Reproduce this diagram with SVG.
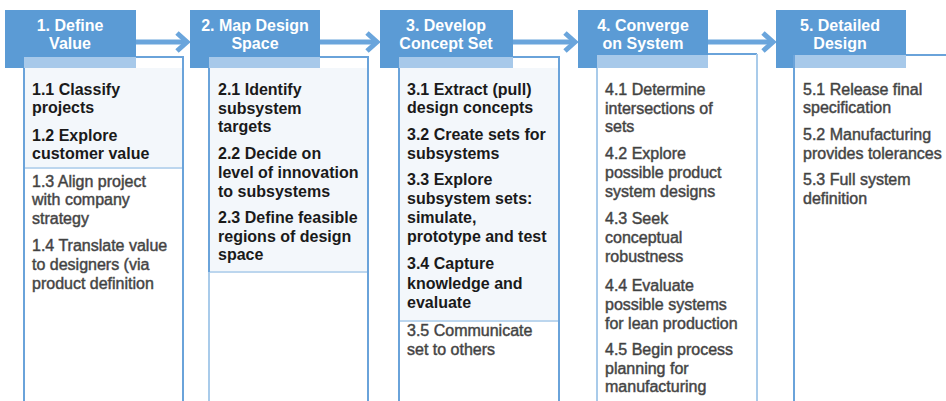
<svg xmlns="http://www.w3.org/2000/svg" width="946" height="401" viewBox="0 0 946 401">
<style>
.hdr{fill:#5b9bd5}
.band{fill:#a7c9ea}
.ht{font-family:"Liberation Sans",Arial,sans-serif;font-size:16px;font-weight:bold;fill:#ffffff;text-anchor:middle}
.t{font-family:"Liberation Sans",Arial,sans-serif;font-size:16px;font-weight:bold;fill:#1a1a1a}
.g{font-family:"Liberation Sans",Arial,sans-serif;font-size:16px;fill:#3a3a3a;stroke:#555555;stroke-width:0.5}
.light{fill:#f3f7fb}
.edge{stroke:#6aa3da;stroke-width:2;fill:none}
.pale{stroke:#a9cbea;stroke-width:2;fill:none}
.sep{stroke:#bcd6ee;stroke-width:2;fill:none}
.arr{stroke:#6aa5dc;stroke-width:5;fill:none}
</style>
<rect width="946" height="401" fill="#ffffff"/>

<g id="connectors">
<line class="arr" x1="136" y1="42" x2="186" y2="42"/>
<polyline class="arr" points="177,33 187,42 177,51"/>
<line class="arr" x1="320" y1="42" x2="376" y2="42"/>
<polyline class="arr" points="367,33 377,42 367,51"/>
<line class="arr" x1="513" y1="42" x2="574" y2="42"/>
<polyline class="arr" points="565,33 575,42 565,51"/>
<line class="arr" x1="708" y1="42" x2="772" y2="42"/>
<polyline class="arr" points="763,33 773,42 763,51"/>
</g>

<g id="node1">
<rect class="light" x="24" y="68" width="159" height="100"/>
<line class="sep" x1="24" y1="168" x2="183" y2="168"/>
<rect class="hdr" x="5" y="10" width="131" height="58"/>
<rect class="band" x="24" y="57" width="112" height="11"/>
<polyline class="edge" points="136,57 183,57 183,401"/>
<line class="edge" x1="24" y1="68" x2="24" y2="401"/>
<text class="ht" x="70" y="31">1. Define</text>
<text class="ht" x="70" y="49">Value</text>
<text class="t" x="32" y="95">1.1 Classify</text>
<text class="t" x="32" y="113">projects</text>
<text class="t" x="32" y="141">1.2 Explore</text>
<text class="t" x="32" y="159">customer value</text>
<text class="g" x="32" y="187">1.3 Align project</text>
<text class="g" x="32" y="205">with company</text>
<text class="g" x="32" y="224">strategy</text>
<text class="g" x="32" y="251">1.4 Translate value</text>
<text class="g" x="32" y="270">to designers (via</text>
<text class="g" x="32" y="289">product definition</text>
</g>

<g id="node2">
<rect class="light" x="209" y="68" width="159" height="204"/>
<line class="sep" x1="209" y1="272" x2="368" y2="272"/>
<rect class="hdr" x="190" y="10" width="130" height="58"/>
<rect class="band" x="209" y="57" width="111" height="11"/>
<polyline class="edge" points="320,57 368,57 368,401"/>
<line class="edge" x1="209" y1="68" x2="209" y2="272"/>
<line class="pale" x1="209" y1="272" x2="209" y2="401"/>
<text class="ht" x="255" y="31">2. Map Design</text>
<text class="ht" x="255" y="49">Space</text>
<text class="t" x="218" y="95">2.1 Identify</text>
<text class="t" x="218" y="114">subsystem</text>
<text class="t" x="218" y="132">targets</text>
<text class="t" x="218" y="159">2.2 Decide on</text>
<text class="t" x="218" y="178">level of innovation</text>
<text class="t" x="218" y="197">to subsystems</text>
<text class="t" x="218" y="223">2.3 Define feasible</text>
<text class="t" x="218" y="242">regions of design</text>
<text class="t" x="218" y="260">space</text>
</g>

<g id="node3">
<rect class="light" x="399" y="68" width="160" height="253"/>
<line class="sep" x1="399" y1="321" x2="559" y2="321"/>
<rect class="hdr" x="380" y="10" width="133" height="58"/>
<rect class="band" x="399" y="57" width="114" height="11"/>
<polyline class="edge" points="513,57 559,57 559,401"/>
<line class="edge" x1="399" y1="68" x2="399" y2="401"/>
<text class="ht" x="446" y="31">3. Develop</text>
<text class="ht" x="446" y="49">Concept Set</text>
<text class="t" x="407" y="95">3.1 Extract (pull)</text>
<text class="t" x="407" y="113">design concepts</text>
<text class="t" x="407" y="140">3.2 Create sets for</text>
<text class="t" x="407" y="159">subsystems</text>
<text class="t" x="407" y="185">3.3 Explore</text>
<text class="t" x="407" y="204">subsystem sets:</text>
<text class="t" x="407" y="223">simulate,</text>
<text class="t" x="407" y="242">prototype and test</text>
<text class="t" x="407" y="269">3.4 Capture</text>
<text class="t" x="407" y="289">knowledge and</text>
<text class="t" x="407" y="308">evaluate</text>
<text class="g" x="407" y="336">3.5 Communicate</text>
<text class="g" x="407" y="355">set to others</text>
</g>

<g id="node4">
<rect class="hdr" x="578" y="10" width="130" height="58"/>
<rect class="band" x="597" y="55" width="111" height="13"/>
<line class="edge" x1="708" y1="54" x2="757" y2="54"/>
<line class="pale" x1="757" y1="54" x2="757" y2="401"/>
<line class="pale" x1="597" y1="68" x2="597" y2="401"/>
<text class="ht" x="643" y="31">4. Converge</text>
<text class="ht" x="643" y="49">on System</text>
<text class="g" x="605" y="95">4.1 Determine</text>
<text class="g" x="605" y="114">intersections of</text>
<text class="g" x="605" y="132">sets</text>
<text class="g" x="605" y="159">4.2 Explore</text>
<text class="g" x="605" y="178">possible product</text>
<text class="g" x="605" y="197">system designs</text>
<text class="g" x="605" y="224">4.3 Seek</text>
<text class="g" x="605" y="243">conceptual</text>
<text class="g" x="605" y="262">robustness</text>
<text class="g" x="605" y="291">4.4 Evaluate</text>
<text class="g" x="605" y="310">possible systems</text>
<text class="g" x="605" y="329">for lean production</text>
<text class="g" x="605" y="355">4.5 Begin process</text>
<text class="g" x="605" y="374">planning for</text>
<text class="g" x="605" y="392">manufacturing</text>
</g>

<g id="node5">
<rect class="hdr" x="776" y="10" width="130" height="58"/>
<rect class="band" x="794" y="55" width="112" height="13"/>
<line class="edge" x1="906" y1="55" x2="946" y2="55"/>
<line class="edge" x1="794" y1="55" x2="794" y2="401"/>
<text class="ht" x="840" y="31">5. Detailed</text>
<text class="ht" x="840" y="49">Design</text>
<text class="g" x="803" y="95">5.1 Release final</text>
<text class="g" x="803" y="113">specification</text>
<text class="g" x="803" y="140">5.2 Manufacturing</text>
<text class="g" x="803" y="159">provides tolerances</text>
<text class="g" x="803" y="185">5.3 Full system</text>
<text class="g" x="803" y="204">definition</text>
</g>
</svg>
